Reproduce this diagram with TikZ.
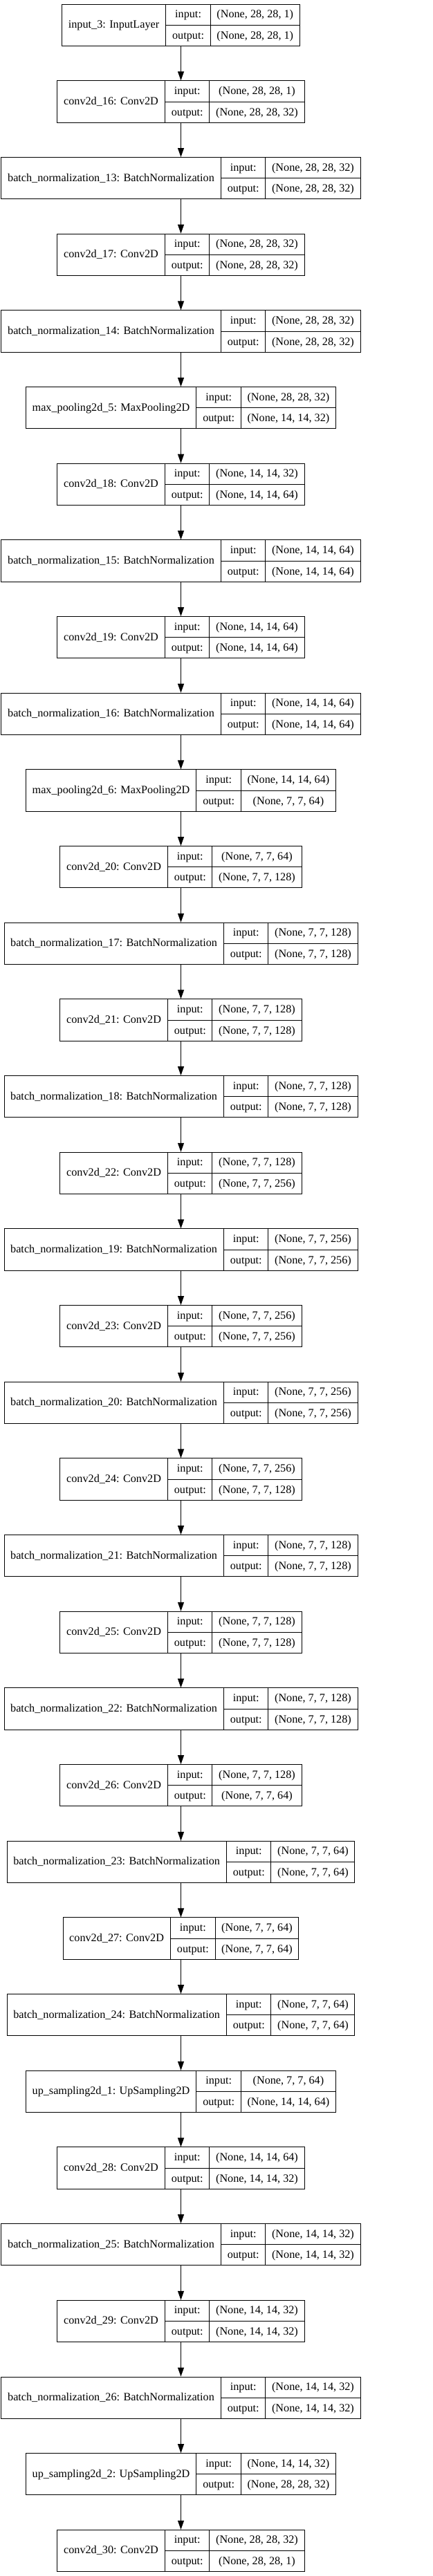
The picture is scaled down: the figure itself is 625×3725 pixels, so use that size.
\documentclass[tikz,border=0pt]{standalone}
\usepackage{fontspec}
\setmainfont{Liberation Serif}
\usetikzlibrary{arrows.meta}

\setlength{\tabcolsep}{9.2pt}
\setlength{\arrayrulewidth}{1pt}
\newcommand{\cellstrut}{\rule[-10.15pt]{0pt}{29.65pt}}
% name | input:/output: | shapes
\newcommand{\layerbox}[3]{%
  \begin{tabular}{c|@{}c@{}}
    #1 &
    \begin{tabular}{c|c}
      \cellstrut input: & #2 \\ \hline
      \cellstrut output: & #3
    \end{tabular}
  \end{tabular}}

\tikzset{kerasnode/.style={draw, line width=1pt, inner sep=0pt,
    font=\fontsize{16.2pt}{19.4pt}\selectfont}}

\begin{document}
\begin{tikzpicture}[node distance=110.67pt, >={Triangle[length=13pt,width=9pt]}, line width=1pt]
            \useasboundingbox (0,0) rectangle (625pt,-3725pt);
            \node(input3) [kerasnode] at (261.5pt,-36.35pt) {\layerbox{input\_3: InputLayer}{(None, 28, 28, 1)}{(None, 28, 28, 1)}};
            \node(conv16) [kerasnode, below of=input3] {\layerbox{conv2d\_16: Conv2D}{(None, 28, 28, 1)}{(None, 28, 28, 32)}};
            \node(bn13) [kerasnode, below of=conv16] {\layerbox{batch\_normalization\_13: BatchNormalization}{(None, 28, 28, 32)}{(None, 28, 28, 32)}};
            \node(conv17) [kerasnode, below of=bn13] {\layerbox{conv2d\_17: Conv2D}{(None, 28, 28, 32)}{(None, 28, 28, 32)}};
            \node(bn14) [kerasnode, below of=conv17] {\layerbox{batch\_normalization\_14: BatchNormalization}{(None, 28, 28, 32)}{(None, 28, 28, 32)}};
            \node(pool5) [kerasnode, below of=bn14] {\layerbox{max\_pooling2d\_5: MaxPooling2D}{(None, 28, 28, 32)}{(None, 14, 14, 32)}};
            \node(conv18) [kerasnode, below of=pool5] {\layerbox{conv2d\_18: Conv2D}{(None, 14, 14, 32)}{(None, 14, 14, 64)}};
            \node(bn15) [kerasnode, below of=conv18] {\layerbox{batch\_normalization\_15: BatchNormalization}{(None, 14, 14, 64)}{(None, 14, 14, 64)}};
            \node(conv19) [kerasnode, below of=bn15] {\layerbox{conv2d\_19: Conv2D}{(None, 14, 14, 64)}{(None, 14, 14, 64)}};
            \node(bn16) [kerasnode, below of=conv19] {\layerbox{batch\_normalization\_16: BatchNormalization}{(None, 14, 14, 64)}{(None, 14, 14, 64)}};
            \node(pool6) [kerasnode, below of=bn16] {\layerbox{max\_pooling2d\_6: MaxPooling2D}{(None, 14, 14, 64)}{(None, 7, 7, 64)}};
            \node(conv20) [kerasnode, below of=pool6] {\layerbox{conv2d\_20: Conv2D}{(None, 7, 7, 64)}{(None, 7, 7, 128)}};
            \node(bn17) [kerasnode, below of=conv20] {\layerbox{batch\_normalization\_17: BatchNormalization}{(None, 7, 7, 128)}{(None, 7, 7, 128)}};
            \node(conv21) [kerasnode, below of=bn17] {\layerbox{conv2d\_21: Conv2D}{(None, 7, 7, 128)}{(None, 7, 7, 128)}};
            \node(bn18) [kerasnode, below of=conv21] {\layerbox{batch\_normalization\_18: BatchNormalization}{(None, 7, 7, 128)}{(None, 7, 7, 128)}};
            \node(conv22) [kerasnode, below of=bn18] {\layerbox{conv2d\_22: Conv2D}{(None, 7, 7, 128)}{(None, 7, 7, 256)}};
            \node(bn19) [kerasnode, below of=conv22] {\layerbox{batch\_normalization\_19: BatchNormalization}{(None, 7, 7, 256)}{(None, 7, 7, 256)}};
            \node(conv23) [kerasnode, below of=bn19] {\layerbox{conv2d\_23: Conv2D}{(None, 7, 7, 256)}{(None, 7, 7, 256)}};
            \node(bn20) [kerasnode, below of=conv23] {\layerbox{batch\_normalization\_20: BatchNormalization}{(None, 7, 7, 256)}{(None, 7, 7, 256)}};
            \node(conv24) [kerasnode, below of=bn20] {\layerbox{conv2d\_24: Conv2D}{(None, 7, 7, 256)}{(None, 7, 7, 128)}};
            \node(bn21) [kerasnode, below of=conv24] {\layerbox{batch\_normalization\_21: BatchNormalization}{(None, 7, 7, 128)}{(None, 7, 7, 128)}};
            \node(conv25) [kerasnode, below of=bn21] {\layerbox{conv2d\_25: Conv2D}{(None, 7, 7, 128)}{(None, 7, 7, 128)}};
            \node(bn22) [kerasnode, below of=conv25] {\layerbox{batch\_normalization\_22: BatchNormalization}{(None, 7, 7, 128)}{(None, 7, 7, 128)}};
            \node(conv26) [kerasnode, below of=bn22] {\layerbox{conv2d\_26: Conv2D}{(None, 7, 7, 128)}{(None, 7, 7, 64)}};
            \node(bn23) [kerasnode, below of=conv26] {\layerbox{batch\_normalization\_23: BatchNormalization}{(None, 7, 7, 64)}{(None, 7, 7, 64)}};
            \node(conv27) [kerasnode, below of=bn23] {\layerbox{conv2d\_27: Conv2D}{(None, 7, 7, 64)}{(None, 7, 7, 64)}};
            \node(bn24) [kerasnode, below of=conv27] {\layerbox{batch\_normalization\_24: BatchNormalization}{(None, 7, 7, 64)}{(None, 7, 7, 64)}};
            \node(up1) [kerasnode, below of=bn24] {\layerbox{up\_sampling2d\_1: UpSampling2D}{(None, 7, 7, 64)}{(None, 14, 14, 64)}};
            \node(conv28) [kerasnode, below of=up1] {\layerbox{conv2d\_28: Conv2D}{(None, 14, 14, 64)}{(None, 14, 14, 32)}};
            \node(bn25) [kerasnode, below of=conv28] {\layerbox{batch\_normalization\_25: BatchNormalization}{(None, 14, 14, 32)}{(None, 14, 14, 32)}};
            \node(conv29) [kerasnode, below of=bn25] {\layerbox{conv2d\_29: Conv2D}{(None, 14, 14, 32)}{(None, 14, 14, 32)}};
            \node(bn26) [kerasnode, below of=conv29] {\layerbox{batch\_normalization\_26: BatchNormalization}{(None, 14, 14, 32)}{(None, 14, 14, 32)}};
            \node(up2) [kerasnode, below of=bn26] {\layerbox{up\_sampling2d\_2: UpSampling2D}{(None, 14, 14, 32)}{(None, 28, 28, 32)}};
            \node(conv30) [kerasnode, below of=up2] {\layerbox{conv2d\_30: Conv2D}{(None, 28, 28, 32)}{(None, 28, 28, 1)}};
            \draw[->](input3) to (conv16);
            \draw[->](conv16) to (bn13);
            \draw[->](bn13) to (conv17);
            \draw[->](conv17) to (bn14);
            \draw[->](bn14) to (pool5);
            \draw[->](pool5) to (conv18);
            \draw[->](conv18) to (bn15);
            \draw[->](bn15) to (conv19);
            \draw[->](conv19) to (bn16);
            \draw[->](bn16) to (pool6);
            \draw[->](pool6) to (conv20);
            \draw[->](conv20) to (bn17);
            \draw[->](bn17) to (conv21);
            \draw[->](conv21) to (bn18);
            \draw[->](bn18) to (conv22);
            \draw[->](conv22) to (bn19);
            \draw[->](bn19) to (conv23);
            \draw[->](conv23) to (bn20);
            \draw[->](bn20) to (conv24);
            \draw[->](conv24) to (bn21);
            \draw[->](bn21) to (conv25);
            \draw[->](conv25) to (bn22);
            \draw[->](bn22) to (conv26);
            \draw[->](conv26) to (bn23);
            \draw[->](bn23) to (conv27);
            \draw[->](conv27) to (bn24);
            \draw[->](bn24) to (up1);
            \draw[->](up1) to (conv28);
            \draw[->](conv28) to (bn25);
            \draw[->](bn25) to (conv29);
            \draw[->](conv29) to (bn26);
            \draw[->](bn26) to (up2);
            \draw[->](up2) to (conv30);
            \end{tikzpicture}
\end{document}
